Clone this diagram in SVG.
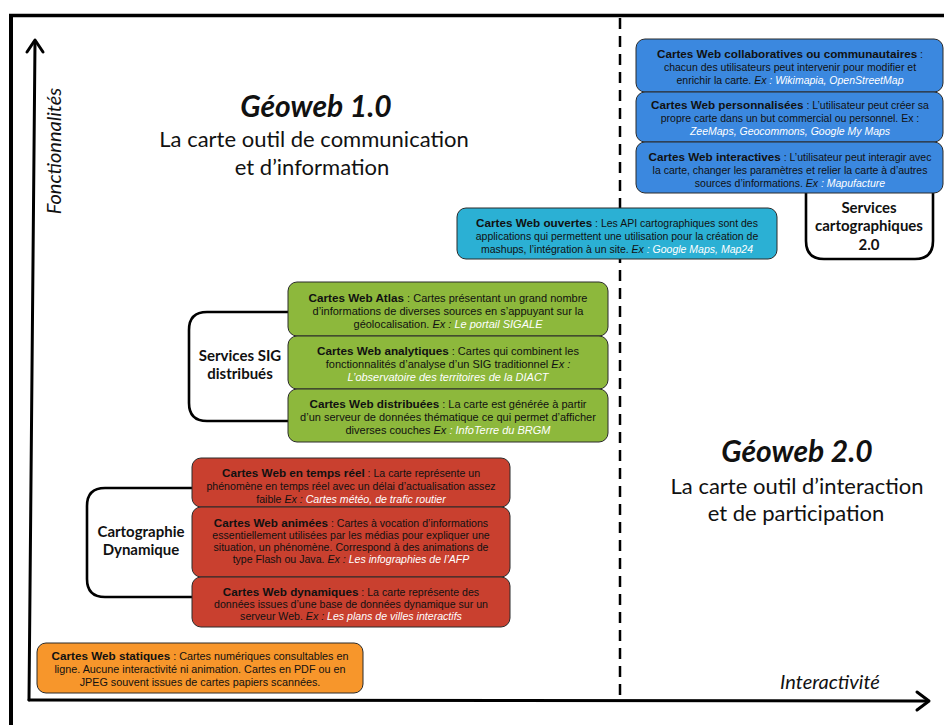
<svg xmlns="http://www.w3.org/2000/svg" width="944" height="725" viewBox="0 0 944 725">
<style>
.t{font-family:"Liberation Sans",Arial,sans-serif;fill:#111;text-anchor:middle}
.b{font-weight:bold;font-size:11.7px}
.i{font-style:italic}
.w{font-style:italic;fill:#fff}
.bx{stroke:#2a2a2a;stroke-width:1}
.blue{fill:#3B88DF}
.cyan{fill:#2BB0D4}
.green{fill:#8DB83C}
.red{fill:#C9402F}
.orange{fill:#F7962B}
.br{fill:none;stroke:#000;stroke-width:2.6}
.lab{font-family:Lato,"Open Sans",sans-serif;font-weight:bold;font-size:15px;fill:#111;text-anchor:middle}
.big{font-family:Lato,"Open Sans",sans-serif;fill:#111;text-anchor:middle}
.ax{fill:none;stroke:#000;stroke-width:3;stroke-linecap:round;stroke-linejoin:round}
</style>
<rect x="0" y="0" width="944" height="725" fill="#fff"/>
<g id="frame">
<line x1="11" y1="14" x2="11" y2="725" stroke="#000" stroke-width="4"/>
<line x1="9" y1="15.5" x2="944" y2="15.5" stroke="#000" stroke-width="3.5"/>
</g>
<g id="axes">
<line x1="35" y1="42" x2="29" y2="700" class="ax"/>
<polyline points="27,52 35,40 43,52" class="ax"/>
<line x1="29" y1="700" x2="927" y2="701" class="ax"/>
<polyline points="917,692 929,701 917,710" class="ax"/>
<line x1="620" y1="18" x2="620" y2="700" stroke="#000" stroke-width="2.5" stroke-dasharray="11,7"/>
<text class="big" font-size="20" font-style="italic" transform="translate(61,151) rotate(-90)">Fonctionnalités</text>
<text class="big" font-size="20" font-style="italic" x="830" y="689">Interactivité</text>
</g>
<g id="titles">
<text class="big" x="316" y="117" font-size="30" font-style="italic" font-weight="bold">Géoweb 1.0</text>
<text class="big" x="314" y="147" font-size="22">La carte outil de communication</text>
<text class="big" x="312" y="175" font-size="22">et d’information</text>
<text class="big" x="797" y="462" font-size="30" font-style="italic" font-weight="bold">Géoweb 2.0</text>
<text class="big" x="797" y="494" font-size="22">La carte outil d’interaction</text>
<text class="big" x="796" y="521" font-size="22">et de participation</text>
</g>
<g id="connectors">
<path class="br" d="M288,312 H207 Q189,312 189,330 V403 Q189,421 207,421 H288"/>
<path class="br" d="M192,488 H105 Q87,488 87,506 V579 Q87,597 105,597 H192"/>
</g>
<g id="services-carto-2">
<path d="M806,150 V241 Q806,259 824,259 H915 Q933,259 933,241 V150 Z" fill="#fff" stroke="#000" stroke-width="2.6"/>
<text class="lab" x="869" y="213">Services</text>
<text class="lab" x="869" y="231">cartographiques</text>
<text class="lab" x="869" y="250">2.0</text>
</g>
<g id="services-sig">
<text class="lab" x="240" y="361">Services SIG</text>
<text class="lab" x="240" y="379">distribués</text>
</g>
<g id="cartographie-dynamique">
<text class="lab" x="141" y="537">Cartographie</text>
<text class="lab" x="141" y="555">Dynamique</text>
</g>
<g id="collaboratives">
<rect class="bx blue" x="636" y="39" width="307" height="53" rx="9"/>
<text class="t" font-size="10.5" x="790" y="58"><tspan class="b">Cartes Web collaboratives ou communautaires</tspan> :</text>
<text class="t" font-size="10.5" x="790" y="71">chacun des utilisateurs peut intervenir pour modifier et</text>
<text class="t" font-size="10.5" x="790" y="84">enrichir la carte. <tspan class="i">Ex</tspan><tspan class="w"> : Wikimapia, OpenStreetMap</tspan></text>
</g>
<g id="personnalisees">
<rect class="bx blue" x="636" y="92" width="307" height="50" rx="9"/>
<text class="t" font-size="10.5" x="790" y="109"><tspan class="b">Cartes Web personnalisées</tspan> : L’utilisateur peut créer sa</text>
<text class="t" font-size="10.5" x="790" y="122">propre carte dans un but commercial ou personnel. Ex :</text>
<text class="t" font-size="10.5" x="790" y="135"><tspan class="w">ZeeMaps, Geocommons, Google My Maps</tspan></text>
</g>
<g id="interactives">
<rect class="bx blue" x="636" y="142" width="307" height="51" rx="9"/>
<text class="t" font-size="10.5" x="790" y="161"><tspan class="b">Cartes Web interactives</tspan> : L’utilisateur peut interagir avec</text>
<text class="t" font-size="10.5" x="790" y="174">la carte, changer les paramètres et relier la carte à d’autres</text>
<text class="t" font-size="10.5" x="790" y="187">sources d’informations. <tspan class="i">Ex</tspan><tspan class="w"> : Mapufacture</tspan></text>
</g>
<g id="ouvertes">
<rect class="bx cyan" x="457" y="208" width="320" height="51" rx="9"/>
<text class="t" font-size="10.5" x="617" y="227"><tspan class="b">Cartes Web ouvertes</tspan> : Les API cartographiques sont des</text>
<text class="t" font-size="10.5" x="617" y="240">applications qui permettent une utilisation pour la création de</text>
<text class="t" font-size="10.5" x="617" y="253">mashups, l’intégration à un site. <tspan class="i">Ex</tspan><tspan class="w"> : Google Maps, Map24</tspan></text>
</g>
<g id="atlas">
<rect class="bx green" x="288" y="282" width="320" height="54" rx="9"/>
<text class="t" font-size="11" x="448" y="302"><tspan class="b">Cartes Web Atlas</tspan>  : Cartes présentant un grand nombre</text>
<text class="t" font-size="11" x="448" y="315">d’informations de diverses sources en s’appuyant sur la</text>
<text class="t" font-size="11" x="448" y="328">géolocalisation. <tspan class="i">Ex :</tspan><tspan class="w"> Le portail SIGALE</tspan></text>
</g>
<g id="analytiques">
<rect class="bx green" x="288" y="336" width="320" height="53" rx="9"/>
<text class="t" font-size="11" x="448" y="355"><tspan class="b">Cartes Web analytiques</tspan>  : Cartes qui combinent les</text>
<text class="t" font-size="11" x="448" y="368">fonctionnalités d’analyse d’un SIG traditionnel  <tspan class="i">Ex :</tspan></text>
<text class="t" font-size="11" x="448" y="381"><tspan class="w">L’observatoire des territoires de la DIACT</tspan></text>
</g>
<g id="distribuees">
<rect class="bx green" x="288" y="389" width="320" height="53" rx="9"/>
<text class="t" font-size="11" x="448" y="408"><tspan class="b">Cartes Web distribuées</tspan>  : La carte est générée à partir</text>
<text class="t" font-size="11" x="448" y="421">d’un serveur de données thématique ce qui permet d’afficher</text>
<text class="t" font-size="11" x="448" y="434">diverses couches <tspan class="i">Ex</tspan><tspan class="w"> : InfoTerre du BRGM</tspan></text>
</g>
<g id="temps-reel">
<rect class="bx red" x="192" y="458" width="318" height="49" rx="9"/>
<text class="t" font-size="10.6" x="351" y="477"><tspan class="b">Cartes Web en temps réel</tspan> : La carte représente un</text>
<text class="t" font-size="10.6" x="351" y="490">phénomène en temps réel avec un délai d’actualisation assez</text>
<text class="t" font-size="10.6" x="351" y="503">faible <tspan class="i">Ex :</tspan><tspan class="w"> Cartes météo, de trafic routier</tspan></text>
</g>
<g id="animees">
<rect class="bx red" x="192" y="507" width="318" height="70" rx="9"/>
<text class="t" font-size="10.6" x="351" y="527"><tspan class="b">Cartes Web animées</tspan> : Cartes à vocation d’informations</text>
<text class="t" font-size="10.6" x="351" y="539">essentiellement utilisées par les médias pour expliquer une</text>
<text class="t" font-size="10.6" x="351" y="551">situation, un phénomène. Correspond à des animations de</text>
<text class="t" font-size="10.6" x="351" y="563">type Flash ou Java.  <tspan class="i">Ex :</tspan><tspan class="w"> Les infographies de l’AFP</tspan></text>
</g>
<g id="dynamiques">
<rect class="bx red" x="192" y="577" width="318" height="50" rx="9"/>
<text class="t" font-size="10.6" x="351" y="596"><tspan class="b">Cartes Web dynamiques</tspan>  : La carte représente des</text>
<text class="t" font-size="10.6" x="351" y="608">données issues d’une base de données dynamique sur un</text>
<text class="t" font-size="10.6" x="351" y="620">serveur Web.  <tspan class="i">Ex :</tspan><tspan class="w"> Les plans de villes interactifs</tspan></text>
</g>
<g id="statiques">
<rect class="bx orange" x="37" y="643" width="326" height="50" rx="9"/>
<text class="t" font-size="10.8" x="200" y="660"><tspan class="b">Cartes Web statiques</tspan> : Cartes numériques consultables en</text>
<text class="t" font-size="10.8" x="200" y="673">ligne. Aucune interactivité ni animation. Cartes en PDF ou en</text>
<text class="t" font-size="10.8" x="200" y="686">JPEG souvent issues de cartes papiers scannées.</text>
</g>
</svg>
